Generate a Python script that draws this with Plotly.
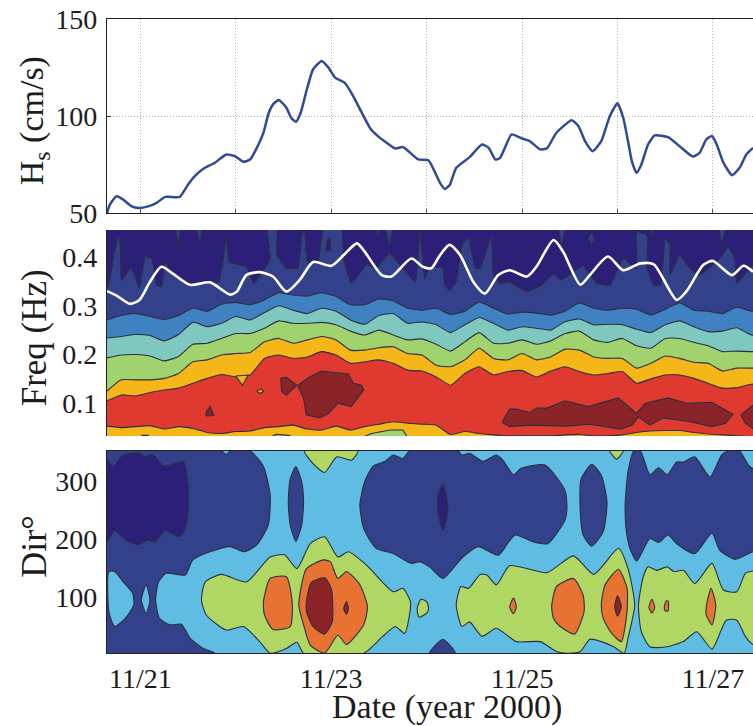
import numpy as np
import plotly.graph_objects as go

SERIF = "Liberation Serif, Times New Roman, serif"
TEXT = "#1c1c1c"
EDGE = "#2b3040"

# --- top panel: significant wave height ---
HS_DAYS = [20.65,20.68,20.75,20.82,20.91,20.98,21.08,21.17,21.26,21.41,21.50,21.57,21.66,21.78,21.90,21.99,22.08,22.15,22.22,22.29,22.34,22.39,22.45,22.53,22.58,22.63,22.68,22.74,22.81,22.90,22.97,23.04,23.14,23.23,23.32,23.41,23.48,23.58,23.67,23.75,23.82,23.91,24.02,24.09,24.14,24.19,24.24,24.31,24.45,24.58,24.65,24.72,24.77,24.89,25.00,25.08,25.19,25.26,25.36,25.52,25.59,25.66,25.74,25.83,25.92,26.00,26.06,26.11,26.15,26.20,26.25,26.32,26.39,26.53,26.67,26.79,26.86,26.93,26.99,27.04,27.11,27.20,27.28,27.35,27.42]
HS_VALUES = [50,54.3,58.6,56.9,53.4,52.6,53.4,55.2,58.3,58.3,64.7,69,72.8,75.9,80.2,79.3,76.4,77.6,83.6,91.4,100.9,106,108.3,104.3,99.1,97,101.7,112.9,124.1,128.4,125,119.8,117.2,110.3,101.7,93.6,90,86.2,83.3,84,81.4,77.6,77.1,70.7,65.5,62.4,64.3,73.3,78.8,85.3,83.6,77.6,78.4,90.5,88.4,87.1,82.8,83.3,91.4,97.8,94.8,87.1,81.9,87.1,100,106.6,99.1,87.1,76.7,70.7,75,85.3,90,89.1,83.6,79.1,81,87.9,89.7,85.3,75.9,69.5,73.3,80.2,83.6]

# --- middle panel: contour edges of spectral energy, frequency (Hz) per time step ---
FREQ_DAYS = [round(20.65 + 0.15 * k, 2) for k in range(47)]
EDGE_MIDBLUE = [.271,.280,.284,.278,.272,.280,.295,.289,.303,.307,.302,.312,.327,.322,.320,.327,.319,.302,.302,.314,.310,.295,.291,.295,.282,.289,.308,.295,.283,.287,.285,.281,.289,.306,.295,.291,.295,.293,.281,.293,.306,.291,.289,.284,.297,.289,.289]
EDGE_TEAL = [.234,.237,.241,.239,.228,.241,.266,.257,.264,.278,.271,.286,.300,.291,.284,.295,.289,.271,.262,.280,.284,.264,.267,.261,.245,.261,.276,.264,.250,.257,.254,.250,.267,.273,.261,.262,.261,.252,.245,.261,.269,.257,.247,.248,.255,.240,.240]
EDGE_GREEN = [.193,.199,.200,.197,.187,.196,.221,.223,.233,.243,.243,.254,.269,.264,.264,.266,.261,.248,.240,.250,.240,.230,.232,.221,.207,.226,.245,.223,.223,.230,.221,.228,.243,.248,.230,.225,.233,.218,.213,.233,.233,.225,.218,.206,.207,.206,.206]
EDGE_YELLOW = [.125,.148,.148,.148,.151,.161,.185,.189,.199,.202,.204,.226,.233,.223,.230,.237,.230,.209,.209,.214,.216,.202,.199,.178,.175,.189,.213,.192,.189,.202,.189,.195,.211,.209,.195,.192,.192,.172,.182,.197,.192,.184,.182,.166,.172,.172,.172]
EDGE_RED_TOP = [.105,.117,.115,.122,.127,.131,.141,.151,.159,.154,.158,.192,.199,.192,.195,.206,.199,.182,.185,.189,.182,.168,.166,.154,.137,.161,.175,.158,.165,.167,.154,.166,.175,.165,.158,.161,.165,.141,.150,.158,.158,.151,.141,.131,.132,.139,.139]
EDGE_RED_BOTTOM = [.053,.050,.052,.054,.047,.052,.048,.040,.038,.042,.043,.050,.052,.055,.047,.045,.053,.045,.052,.057,.062,.059,.057,.055,.036,.042,.038,.035,.033,.033,.033,.033,.035,.036,.033,.033,.035,.040,.043,.044,.044,.040,.037,.035,.033,.031,.031]

PEAK_DAYS = [20.65,20.75,20.89,20.99,21.10,21.22,21.34,21.52,21.73,21.94,22.01,22.11,22.25,22.39,22.53,22.67,22.81,23.00,23.13,23.27,23.35,23.53,23.63,23.84,23.96,24.05,24.14,24.24,24.35,24.49,24.61,24.75,24.87,25.05,25.15,25.33,25.43,25.61,25.71,25.90,26.06,26.24,26.38,26.62,26.72,26.90,27.00,27.20,27.32,27.42]
PEAK_FREQ = [.330,.321,.304,.312,.349,.380,.366,.343,.348,.323,.329,.363,.369,.360,.329,.353,.390,.382,.404,.428,.411,.363,.360,.397,.380,.377,.404,.425,.404,.349,.325,.363,.373,.360,.380,.435,.411,.343,.363,.401,.373,.387,.385,.312,.329,.384,.392,.363,.382,.370]

TOP_EDGE_DAYS = [20.60,20.65,20.69,20.72,20.77,20.79,20.80,20.90,20.94,20.99,21.05,21.12,21.17,21.22,21.26,21.34,21.52,21.82,21.87,21.90,21.93,22.11,22.19,22.36,22.33,22.43,22.43,22.53,22.60,22.65,22.70,22.72,22.75,22.86,22.92,23.11,23.13,23.21,23.37,23.47,23.61,23.75,23.88,23.91,23.93,23.98,24.03,24.17,24.19,24.24,24.31,24.37,24.44,24.51,24.56,24.68,24.70,24.77,24.87,25.05,25.20,25.33,25.41,25.54,25.64,25.78,25.92,26.06,26.20,26.20,26.31,26.31,26.38,26.45,26.50,26.55,26.55,26.65,26.76,26.86,27.07,27.16,27.23,27.25,27.42,27.50]
TOP_EDGE_FREQ = [.336,.336,.363,.404,.442,.425,.353,.377,.363,.336,.401,.397,.343,.339,.390,.363,.346,.349,.397,.447,.390,.380,.346,.397,.460,.460,.404,.377,.377,.377,.452,.452,.390,.390,.460,.460,.397,.346,.384,.377,.408,.377,.349,.397,.460,.356,.380,.377,.343,.332,.349,.425,.440,.377,.377,.445,.363,.346,.349,.329,.342,.366,.353,.370,.382,.346,.342,.397,.377,.452,.445,.377,.342,.342,.438,.425,.363,.404,.377,.363,.397,.421,.397,.346,.384,.384]

DARKBLUE_SPIKES = [
    ([21.37,21.40,21.42],[.46,.421,.46]),
    ([21.59,21.62,21.65],[.46,.428,.46]),
    ([23.47,23.49,23.51],[.46,.437,.46]),
    ([23.56,23.61,23.65],[.46,.425,.46]),
    ([25.38,25.41,25.46],[.46,.421,.46]),
    ([25.69,25.73,25.76,25.73],[.438,.451,.438,.426]),
    ([26.34,26.36,26.38],[.46,.437,.46]),
    ([27.06,27.09,27.14],[.46,.428,.46]),
]
NAVY_ISLAND = ([22.94,22.96,22.99,22.99],[.414,.435,.440,.412])
YELLOW_NOTCH = ([22.00,22.07,22.13],[.156,.137,.158])
YELLOW_SPOT = ([22.22,22.27,22.29,22.25],[.125,.129,.124,.120])
BOTTOM_GREEN = [
    ([21.00,21.02,21.08,21.10],[.03,.034,.034,.03]),
    ([22.36,22.42,22.55,22.60],[.03,.036,.034,.03]),
    ([23.33,23.42,23.62,23.75,23.80],[.03,.038,.045,.045,.03]),
]
DARKRED_BLOBS = [
    ([22.65,22.78,22.90,23.18,23.23,23.32,23.34,23.21,23.07,22.97,22.88,22.74,22.71],[.137,.155,.166,.160,.141,.137,.127,.093,.100,.079,.070,.076,.110]),
    ([22.47,22.53,22.64,22.53,22.48],[.151,.153,.137,.117,.124]),
    ([21.69,21.73,21.77,21.69],[.083,.093,.075,.074]),
    ([24.79,24.87,24.94,25.08,25.15,25.26,25.45,25.69,26.01,26.20,26.29,26.53,26.72,26.99,27.21,27.13,26.99,26.76,26.48,26.34,26.22,26.15,26.03,25.71,25.47,25.08,24.87],
     [.061,.088,.088,.081,.090,.090,.105,.093,.111,.079,.100,.111,.100,.102,.077,.059,.052,.062,.070,.055,.072,.055,.047,.057,.053,.055,.052]),
    ([27.29,27.42,27.50,27.50,27.42,27.34],[.076,.096,.096,.049,.048,.059]),
]

# --- bottom panel: directional spectrum regions (day, degrees) ---
DIR_BLUE = [
    ([20.60,21.85,21.90,21.94,22.15,22.29,22.36,22.34,22.22,22.09,21.94,21.73,21.55,21.47,21.27,21.19,21.16,21.20,21.31,21.43,21.52,21.66,21.78,20.60],
     [352,352,346,352,352,325,276,224,190,178,187,178,164,138,141,126,95,63,52,53,29,11,3,3]),
    ([22.63,22.69,22.71,22.69,22.63,22.57,22.55,22.57],[325,299,264,224,196,224,264,304]),
    ([23.30,23.35,23.44,23.56,23.65,23.75,23.82,24.33,24.37,24.45,24.59,24.73,24.80,24.91,24.99,25.24,25.45,25.47,25.45,25.27,25.12,24.93,24.86,24.75,24.54,24.38,24.17,24.03,23.93,23.84,23.65,23.47,23.34],
     [259,299,326,334,345,339,352,352,345,348,334,345,336,311,322,328,284,253,233,192,195,207,195,172,187,169,132,152,161,158,175,184,218]),
    ([25.73,25.83,25.89,25.85,25.73,25.64,25.61,25.62],[329,310,264,213,188,207,247,304]),
    ([26.08,26.11,26.17,26.24,26.34,26.43,26.52,26.62,26.69,26.81,26.97,27.09,27.16,27.28,27.37,27.42,27.50,27.50,27.42,27.23,27.07,26.99,26.81,26.62,26.53,26.43,26.34,26.20,26.13,26.09],
     [259,316,352,352,311,323,311,333,333,342,307,345,352,352,328,322,322,178,178,165,181,210,175,192,207,194,201,162,184,218]),
    ([24.03,24.17,24.30],[3,27,3]),
]
DIR_SKY_ISLANDS = [
    ([20.67,20.73,20.82,20.92,20.93,20.84,20.73,20.67],[144,144,126,106,86,63,49,75]),
    ([21.01,21.06,21.10,21.06],[95,121,95,72]),
]
DIR_NAVY = [
    ([20.60,20.71,20.82,20.98,21.05,21.13,21.24,21.45,21.50,21.50,21.47,21.41,21.26,21.15,21.08,20.98,20.85,20.73,20.65,20.60],
     [348,325,345,349,342,346,326,333,293,247,218,204,215,195,198,190,198,215,195,195]),
    ([24.17,24.21,24.22,24.17,24.12,24.12],[294,270,247,215,247,276]),
]
DIR_GREEN = [
    ([21.64,21.68,21.85,22.11,22.36,22.51,22.64,22.78,22.93,23.07,23.18,23.37,23.65,23.75,23.83,23.82,23.77,23.67,23.54,23.34,22.71,22.64,22.53,22.36,22.25,22.08,21.90,21.69],
     [95,126,139,126,169,173,149,192,204,169,178,155,109,115,92,69,37,49,32,3,3,22,11,3,23,49,43,69]),
    ([22.72,22.81,22.93,23.06,23.21,23.28],[352,330,315,342,336,352]),
    ([23.90,23.94,24.00,24.02,24.00,23.92],[80,96,92,80,72,65]),
    ([25.92,25.99,26.06],[352,338,352]),
    ([24.31,24.36,24.44,24.56,24.63,24.73,24.87,25.26,25.54,25.75,26.01,26.11,26.18,26.11,26.07,25.96,25.83,25.71,25.61,25.47,25.36,25.19,24.94,24.73,24.58,24.45,24.37],
     [86,118,115,139,138,121,154,142,171,139,184,149,86,29,3,14,23,27,6,3,6,23,23,46,32,57,49]),
    ([26.22,26.27,26.32,26.41,26.52,26.59,26.69,26.81,26.99,27.11,27.25,27.34,27.42,27.50,27.50,27.42,27.34,27.25,27.14,26.99,26.83,26.69,26.52,26.34,26.25],
     [86,135,152,146,152,144,146,123,158,112,109,141,145,145,18,18,32,60,60,10,40,23,14,14,40]),
]
DIR_ORANGE = [
    ([22.29,22.36,22.53,22.59,22.57,22.39,22.30],[92,132,135,92,49,44,69]),
    ([22.66,22.74,22.92,22.99,23.07,23.16,23.30,23.38,23.34,23.16,23.07,22.93,22.78,22.71],[86,149,164,161,132,144,121,83,52,18,34,3,17,52]),
    ([24.87,24.91,24.94,24.91],[83,98,83,71]),
    ([25.31,25.36,25.54,25.64,25.65,25.55,25.40,25.33],[83,118,132,103,75,36,49,63]),
    ([25.83,25.87,26.01,26.10,26.10,26.04,25.94,25.85],[86,121,148,115,75,23,37,63]),
    ([26.33,26.36,26.39,26.36],[82,96,82,72]),
    ([26.49,26.51,26.53,26.53,26.50],[83,93,93,76,76]),
    ([26.93,26.98,27.03,26.99,26.93],[83,115,86,52,69]),
]
DIR_DARKRED = [
    ([22.74,22.79,22.93,23.00,23.01,22.93,22.81,22.74],[92,125,133,115,57,36,49,75]),
    ([23.13,23.16,23.18,23.16],[80,92,80,70]),
    ([25.97,26.00,26.04,26.00],[83,102,83,67]),
]

TICK_DAYS = [21, 23, 25, 27]
TICK_TEXT = ["11/21", "11/23", "11/25", "11/27"]
HS_TICKS = [50, 100, 150]
FREQ_TICKS = [0.1, 0.2, 0.3, 0.4]
DIR_TICKS = [100, 200, 300]
Y_TITLES = [("H<sub>s</sub> (cm/s)", 34, 0.833), ("Freq (Hz)", 35, 0.534), ("Dir°", 36, 0.247)]
X_TITLE = "Date (year 2000)"

NAVY, DARKBLUE, MIDBLUE, TEAL, GREEN, YELLOW, RED, DARKRED = (
    "#2c1f77", "#33408a", "#3f81c1", "#7ec8bf", "#a0d26d", "#f5b618", "#e03a30", "#8a2428")
SKY, LEAF, ORANGE = "#5fbde3", "#b0d764", "#e87232"

fig = go.Figure()


def band(days, vals, color, smoothing=0.5):
    fig.add_trace(go.Scatter(x=days, y=vals, xaxis="x2", yaxis="y2", mode="lines", fill="tozeroy",
                             fillcolor=color, line=dict(color=EDGE, width=1.1, shape="spline", smoothing=smoothing),
                             hoverinfo="skip", showlegend=False))


def region(poly, color, axis, shape="spline"):
    xs = list(poly[0]) + [poly[0][0]]
    ys = list(poly[1]) + [poly[1][0]]
    n = "2" if axis == 2 else "3"
    fig.add_trace(go.Scatter(x=xs, y=ys, xaxis="x" + n, yaxis="y" + n, mode="lines", fill="toself",
                             fillcolor=color, line=dict(color=EDGE, width=1.1, shape=shape, smoothing=0.6),
                             hoverinfo="skip", showlegend=False))


# top
fig.add_trace(go.Scatter(x=HS_DAYS, y=HS_VALUES, mode="lines", showlegend=False,
                         line=dict(color="#2f4a96", width=2.5, shape="spline", smoothing=0.5)))
# middle
fig.add_trace(go.Scatter(x=[20.6, 27.5, 27.5, 20.6, 20.6], y=[.02, .02, .46, .46, .02], xaxis="x2", yaxis="y2",
                         mode="lines", fill="toself", fillcolor=NAVY, line=dict(width=0),
                         hoverinfo="skip", showlegend=False))
band(TOP_EDGE_DAYS, TOP_EDGE_FREQ, DARKBLUE, 0.3)
for p in DARKBLUE_SPIKES:
    region(p, DARKBLUE, 2, "linear")
region(NAVY_ISLAND, NAVY, 2, "linear")
band(FREQ_DAYS, EDGE_MIDBLUE, MIDBLUE)
band(FREQ_DAYS, EDGE_TEAL, TEAL)
band(FREQ_DAYS, EDGE_GREEN, GREEN)
band(FREQ_DAYS, EDGE_YELLOW, YELLOW)
band(FREQ_DAYS, EDGE_RED_TOP, RED)
region(YELLOW_NOTCH, YELLOW, 2, "linear")
region(YELLOW_SPOT, YELLOW, 2, "linear")
band(FREQ_DAYS, EDGE_RED_BOTTOM, YELLOW)
for p in BOTTOM_GREEN:
    region(p, GREEN, 2, "linear")
for p in DARKRED_BLOBS:
    region(p, DARKRED, 2, "linear")
fig.add_trace(go.Scatter(x=PEAK_DAYS, y=PEAK_FREQ, xaxis="x2", yaxis="y2", mode="lines", showlegend=False,
                         line=dict(color="white", width=2.6, shape="spline", smoothing=0.7)))
# bottom
fig.add_trace(go.Scatter(x=[20.6, 27.5, 27.5, 20.6, 20.6], y=[0, 0, 360, 360, 0], xaxis="x3", yaxis="y3",
                         mode="lines", fill="toself", fillcolor=SKY, line=dict(width=0),
                         hoverinfo="skip", showlegend=False))
for p in DIR_BLUE:
    region(p, DARKBLUE, 3)
for p in DIR_SKY_ISLANDS:
    region(p, SKY, 3)
for p in DIR_NAVY:
    region(p, NAVY, 3)
for p in DIR_GREEN:
    region(p, LEAF, 3)
for p in DIR_ORANGE:
    region(p, ORANGE, 3)
for p in DIR_DARKRED:
    region(p, DARKRED, 3)

font = dict(family=SERIF, size=28, color=TEXT)
xbase = dict(range=[20.65, 27.42], showline=True, linecolor="#222222", linewidth=1.3, mirror=True,
             zeroline=False, tickfont=font, automargin=False)
ybase = dict(showline=True, linecolor="#222222", linewidth=1.3, zeroline=False, tickfont=font,
             ticks="inside", ticklen=4, tickcolor="#333333", ticklabelstandoff=3, automargin=False)
GRID = dict(showgrid=True, gridcolor="#b4b4b4", griddash="1px,2px", gridwidth=1)

title_notes = [dict(text=t, xref="paper", yref="paper", x=-0.113, y=yc, textangle=-90, showarrow=False,
                    xanchor="center", yanchor="middle", font=dict(family=SERIF, size=s, color=TEXT))
               for t, s, yc in Y_TITLES]
title_notes.append(dict(text=X_TITLE, xref="paper", yref="paper", x=0.526, y=0.0267, showarrow=False,
                        xanchor="center", yanchor="middle", font=dict(family=SERIF, size=34, color=TEXT)))

fig.update_layout(
    width=753, height=726, autosize=False,
    margin=dict(l=107, r=0, t=0, b=0, pad=0, autoexpand=False),
    paper_bgcolor="white", plot_bgcolor="white", showlegend=False,
    xaxis=dict(xbase, domain=[0, 1], anchor="y", tick0=21, dtick=1, showticklabels=False,
               ticks="inside", ticklen=4, tickcolor="#555555", **GRID),
    yaxis=dict(ybase, domain=[0.7066, 0.9738], anchor="x", range=[50, 150], tickvals=HS_TICKS, **GRID),
    xaxis2=dict(range=[20.65, 27.42], domain=[0, 1], anchor="y2", showticklabels=False, ticks="",
                showgrid=False, zeroline=False, showline=False, automargin=False),
    yaxis2=dict(ybase, domain=[0.3994, 0.6832], anchor="x2", range=[0.0327, 0.4555], tickvals=FREQ_TICKS,
                tickformat=".1f", showgrid=False, ticks=""),
    xaxis3=dict(xbase, domain=[0, 1], anchor="y3", tickvals=TICK_DAYS, ticktext=TICK_TEXT, ticks="",
                showgrid=False, ticklabelstandoff=0),
    yaxis3=dict(ybase, domain=[0.1006, 0.3788], anchor="x3", range=[3.4, 352], tickvals=DIR_TICKS,
                showgrid=False, ticks=""),
    annotations=title_notes,
)
fig.write_html("out.html", config=dict(displayModeBar=False),
               post_script="document.body.style.margin='0';document.body.style.overflow='hidden';")
